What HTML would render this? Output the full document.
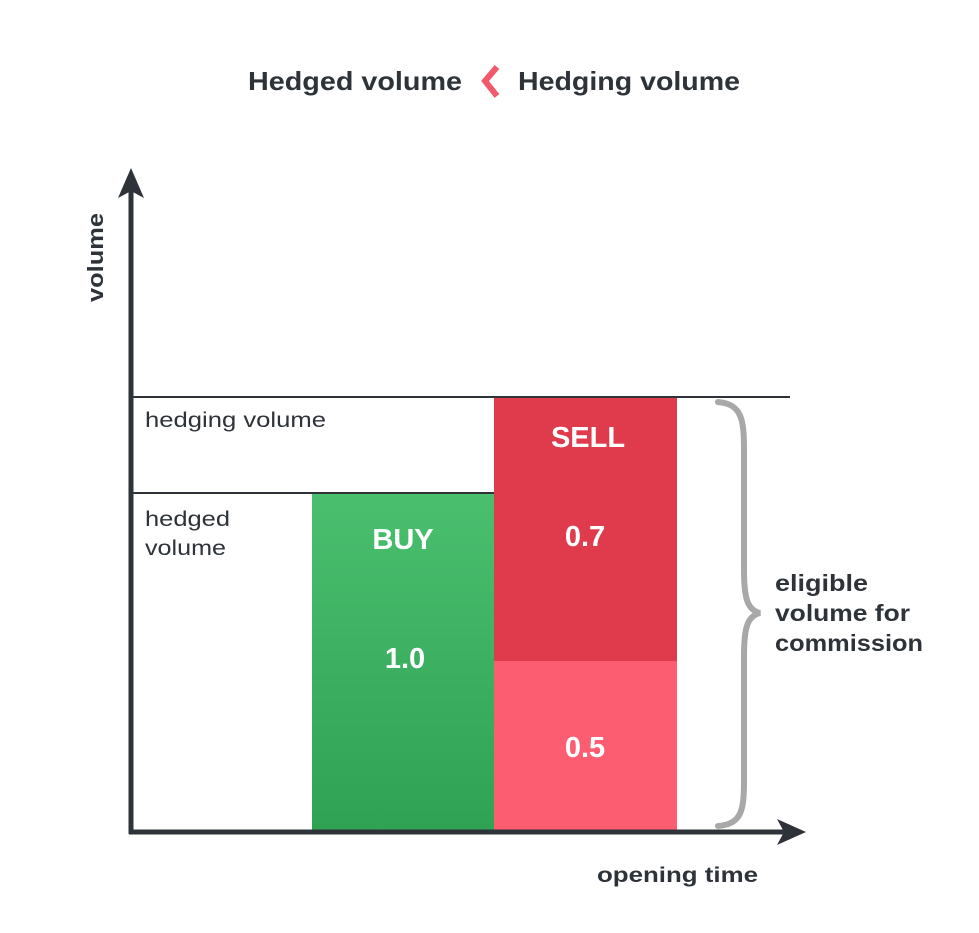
<!DOCTYPE html>
<html><head><meta charset="utf-8"><style>
html,body{margin:0;padding:0;background:#fff;}
body{width:979px;height:928px;overflow:hidden;}
</style></head><body>
<svg width="979" height="928" viewBox="0 0 979 928" xmlns="http://www.w3.org/2000/svg" font-family="Liberation Sans, sans-serif">
<defs>
<linearGradient id="g" x1="0" y1="0" x2="0" y2="1">
<stop offset="0" stop-color="#4abf6e"/><stop offset="1" stop-color="#2fa253"/>
</linearGradient>
</defs>
<rect width="979" height="928" fill="#fff"/>
<text x="248" y="90" font-size="26" font-weight="bold" fill="#2d3339" textLength="214" lengthAdjust="spacingAndGlyphs">Hedged volume</text>
<path d="M497 67 L485 81 L497 96" fill="none" stroke="#f2596b" stroke-width="6"/>
<text x="518" y="90" font-size="26" font-weight="bold" fill="#2d3339" textLength="222" lengthAdjust="spacingAndGlyphs">Hedging volume</text>
<rect x="312" y="493" width="182" height="338" fill="url(#g)"/>
<rect x="494" y="397" width="183" height="264" fill="#e03b4d"/>
<rect x="494" y="661" width="183" height="170" fill="#fd5d70"/>
<line x1="131" y1="397" x2="790" y2="397" stroke="#2d3339" stroke-width="2"/>
<line x1="131" y1="493" x2="494" y2="493" stroke="#2d3339" stroke-width="2"/>
<line x1="131" y1="190" x2="131" y2="834" stroke="#2d3339" stroke-width="5"/>
<path d="M131 168 L144 198 L131 191 L118 198 Z" fill="#2d3339"/>
<line x1="129" y1="832" x2="785" y2="832" stroke="#2d3339" stroke-width="5"/>
<path d="M806 832 L777 819 L784 832 L777 845 Z" fill="#2d3339"/>
<text transform="translate(103,302) rotate(-90)" font-size="22" font-weight="bold" fill="#2d3339" textLength="89" lengthAdjust="spacingAndGlyphs">volume</text>
<text x="145" y="427" font-size="21" fill="#2d3339" textLength="181" lengthAdjust="spacingAndGlyphs">hedging volume</text>
<text x="145" y="526" font-size="21" fill="#2d3339" textLength="85" lengthAdjust="spacingAndGlyphs">hedged</text>
<text x="145" y="555" font-size="21" fill="#2d3339" textLength="81" lengthAdjust="spacingAndGlyphs">volume</text>
<g font-size="29" font-weight="bold" fill="#fff" text-anchor="middle">
<text x="588" y="447">SELL</text>
<text x="403" y="549">BUY</text>
<text x="585" y="546">0.7</text>
<text x="405" y="668">1.0</text>
<text x="585" y="757">0.5</text>
</g>
<path d="M718 402 C742 404 744 420 744 450 L744 570 C744 600 748 610 760 613 C748 616 744 626 744 656 L744 780 C744 810 742 824 718 826" fill="none" stroke="#a8a8a8" stroke-width="6" stroke-linecap="round"/>
<g font-size="23" font-weight="bold" fill="#2d3339">
<text x="775" y="591" textLength="93" lengthAdjust="spacingAndGlyphs">eligible</text>
<text x="775" y="621" textLength="135" lengthAdjust="spacingAndGlyphs">volume for</text>
<text x="775" y="651" textLength="148" lengthAdjust="spacingAndGlyphs">commission</text>
</g>
<text x="597" y="882" font-size="21" font-weight="bold" fill="#2d3339" textLength="161" lengthAdjust="spacingAndGlyphs">opening time</text>
</svg>
</body></html>
